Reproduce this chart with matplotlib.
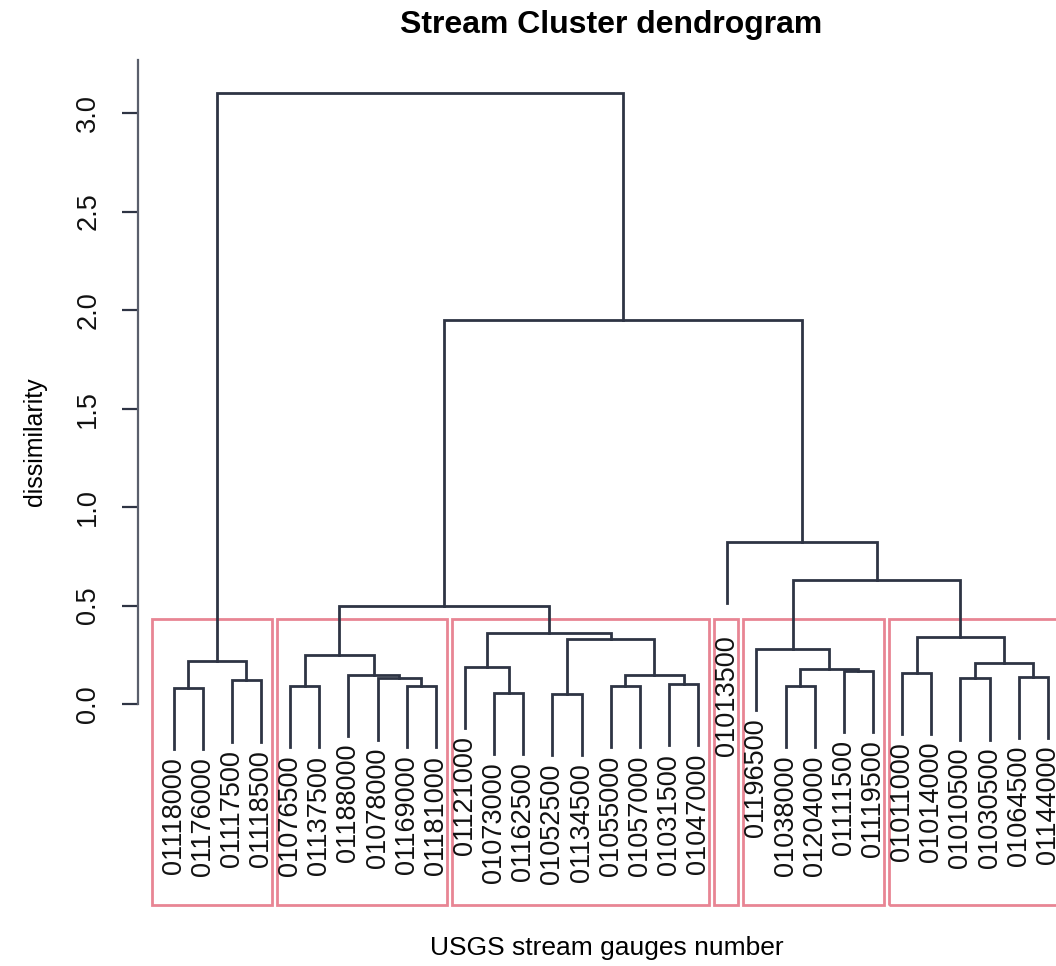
import matplotlib
matplotlib.use("Agg")
import matplotlib.pyplot as plt
from matplotlib.patches import Rectangle

plt.rcParams['font.family'] = ['Liberation Sans', 'DejaVu Sans']

# leaf order as drawn, left to right
leaves = ["01118000", "01176000", "01117500", "01118500",
          "01076500", "01137500", "01188000", "01078000", "01169000", "01181000",
          "01121000", "01073000", "01162500", "01052500", "01134500",
          "01055000", "01057000", "01031500", "01047000",
          "01013500",
          "01196500", "01038000", "01204000", "01111500", "01119500",
          "01011000", "01014000", "01010500", "01030500", "01064500", "01144000"]

# hclust-style merges: negative = leaf number, positive = earlier merge number
merge_left = [-1, -3, 1, -5, -9, -8, -7, 4, -12, -11, -14, -16, -18, 12, 11,
              10, 8, -22, -24, 18, -21, -26, -28, -30, 23, 22, 21, -20, 17, 3]
merge_right = [-2, -4, 2, -6, -10, 5, 6, 7, -13, 9, -15, -17, -19, 13, 14,
               15, 16, -23, -25, 19, 20, -27, -29, -31, 24, 25, 26, 27, 28, 29]
merge_height = [0.08, 0.12, 0.22, 0.09, 0.09, 0.13, 0.15, 0.25, 0.055, 0.19,
                0.05, 0.09, 0.10, 0.15, 0.33, 0.36, 0.50, 0.09, 0.17, 0.18,
                0.28, 0.16, 0.13, 0.14, 0.21, 0.34, 0.63, 0.825, 1.95, 3.10]

cluster_sizes = [4, 6, 9, 1, 5, 6]
cut_height = 0.43
hang = 0.31

line_col = "#2e3444"
rect_col = "#e88594"

fig = plt.figure(figsize=(10.56, 9.66), dpi=100)
ax = fig.add_axes([0.1307, 0.0621, 0.892, 0.882])
ax.set_xlim(-0.218, 32.1)
ax.set_ylim(-1.025, 3.3)

# positions of merges
mx = {}
for i in range(len(merge_height)):
    h = merge_height[i]
    pts = []
    for c in (merge_left[i], merge_right[i]):
        if c < 0:
            x = -c
            y0 = h - hang
            yl = min(y0, cut_height - 0.04)
            ax.annotate(leaves[x - 1], (x, yl), xytext=(0, -6),
                        textcoords="offset points", rotation=90,
                        ha="center", va="top", fontsize=19.5, color="#111")
        else:
            x = mx[c]
            y0 = merge_height[c - 1]
        pts.append((x, y0))
    (xl, yl0), (xr, yr0) = pts
    ax.plot([xl, xl, xr, xr], [yl0, h, h, yr0], color=line_col, lw=2.0,
            solid_joinstyle="miter")
    mx[i + 1] = (xl + xr) / 2

# cluster boxes
start = 1
for k, n in enumerate(cluster_sizes):
    lpad = 0.74 if k == 0 else 0.46
    x0 = start - lpad
    x1 = start + n - 1 + 0.37
    ax.add_patch(Rectangle((x0, -1.02), x1 - x0, cut_height + 1.02,
                           fill=False, ec=rect_col, lw=2.0, clip_on=False))
    start += n

for s in ("top", "right", "bottom"):
    ax.spines[s].set_visible(False)
ax.spines["left"].set_bounds(0, 3.27)
ax.spines["left"].set_color("#5a5f6c")
ax.spines["left"].set_linewidth(1.6)
ax.set_xticks([])
yt = [0.0, 0.5, 1.0, 1.5, 2.0, 2.5, 3.0]
ax.set_yticks(yt)
ax.set_yticklabels(["%.1f" % v for v in yt], rotation=90, va="center",
                   fontsize=19.5, color="#111")
ax.tick_params(axis="y", length=11.5, width=1.6, pad=15, color="#2e3444")

fig.text(611 / 1056, 1 - 33 / 966, "Stream Cluster dendrogram",
         ha="center", va="baseline", fontsize=23, fontweight="bold")
fig.text(607 / 1056, 1 - 955 / 966, "USGS stream gauges number",
         ha="center", va="baseline", fontsize=19)
fig.text(35 / 1056, 1 - 442 / 966, "dissimilarity", rotation=90,
         ha="center", va="center", fontsize=18)

fig.savefig("out.png", dpi=100)
